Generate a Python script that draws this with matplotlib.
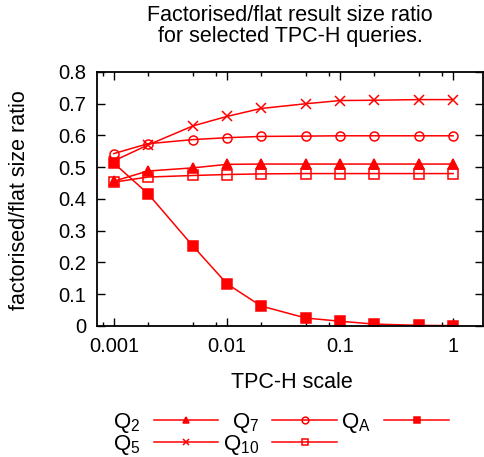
import matplotlib
matplotlib.use('Agg')
import matplotlib.pyplot as plt
from matplotlib.ticker import LogLocator, FixedLocator, FixedFormatter, NullFormatter

plt.rcParams['font.family'] = ['Liberation Sans', 'DejaVu Sans']
plt.rcParams['mathtext.fontset'] = 'custom'
plt.rcParams['mathtext.rm'] = 'Liberation Sans'
plt.rcParams['mathtext.it'] = 'Liberation Sans:italic'

scale = [0.001, 0.002, 0.005, 0.01, 0.02, 0.05, 0.1, 0.2, 0.5, 1]

q2 = [0.456, 0.488, 0.498, 0.509, 0.510, 0.510, 0.510, 0.510, 0.510, 0.510]
q5 = [0.520, 0.570, 0.630, 0.660, 0.685, 0.700, 0.710, 0.711, 0.713, 0.713]
q7 = [0.543, 0.574, 0.587, 0.593, 0.597, 0.598, 0.599, 0.599, 0.599, 0.599]
q10 = [0.453, 0.469, 0.474, 0.477, 0.479, 0.480, 0.480, 0.480, 0.480, 0.480]
qa = [0.513, 0.417, 0.252, 0.133, 0.063, 0.025, 0.015, 0.006, 0.002, 0.001]

series = [
    (r'Q$_{\mathrm{2}}$', q2, '^', 'red'),
    (r'Q$_{\mathrm{5}}$', q5, 'x', 'red'),
    (r'Q$_{\mathrm{7}}$', q7, 'o', 'none'),
    (r'Q$_{\mathrm{10}}$', q10, 's', 'none'),
    (r'Q$_{\mathrm{A}}$', qa, 's', 'red'),
]

fig = plt.figure(figsize=(4.85, 4.57), dpi=100)
ax = fig.add_axes([0.2, 0.2867, 0.796, 0.5558])

for label, vals, mk, fc in series:
    ax.plot(scale, vals, color='red', lw=1.1, marker=mk, markersize=6.5,
            markerfacecolor=fc, markeredgecolor='red', markeredgewidth=1.1,
            label=label)

ax.set_xscale('log')
ax.set_xlim(0.00071, 1.84)
ax.set_ylim(0, 0.8)

ax.xaxis.set_major_locator(FixedLocator([0.001, 0.01, 0.1, 1]))
ax.xaxis.set_major_formatter(FixedFormatter(['0.001', '0.01', '0.1', '1']))
ax.xaxis.set_minor_locator(LogLocator(base=10, subs=(2, 5, 8)))
ax.xaxis.set_minor_formatter(NullFormatter())
ax.set_yticks([0, 0.1, 0.2, 0.3, 0.4, 0.5, 0.6, 0.7, 0.8])
ax.set_yticklabels(['0', '0.1', '0.2', '0.3', '0.4', '0.5', '0.6', '0.7', '0.8'])

ax.tick_params(which='both', direction='in', top=True, right=True,
               labelsize=14.5, width=1.0)
ax.tick_params(which='major', length=6, pad=8)
ax.tick_params(which='minor', length=3)
for s in ax.spines.values():
    s.set_linewidth(1.3)

# Titles and axis labels placed in figure pixels
W, H = 485, 457
fig.text(290 / W, 1 - 26 / H,
         'Factorised/flat result size ratio\nfor selected TPC-H queries.',
         ha='center', va='center', fontsize=15.5, linespacing=0.95)
fig.text(292 / W, 1 - 383 / H, 'TPC-H scale', ha='center', va='center',
         fontsize=15.5)
fig.text(20 / W, 1 - 200 / H, 'factorised/flat size ratio', ha='center',
         va='center', rotation=90, fontsize=15.5)

leg = fig.legend(loc='upper left', ncol=3, frameon=False,
                 markerfirst=False, fontsize=16, handlelength=2.9,
                 handletextpad=0.6, columnspacing=0.2, labelspacing=-0.1,
                 borderpad=0, borderaxespad=0, markerscale=0.75)
leg.set_bbox_to_anchor((113 / W, 1 - 411 / H), transform=fig.transFigure)

fig.savefig('out.png', dpi=100)
